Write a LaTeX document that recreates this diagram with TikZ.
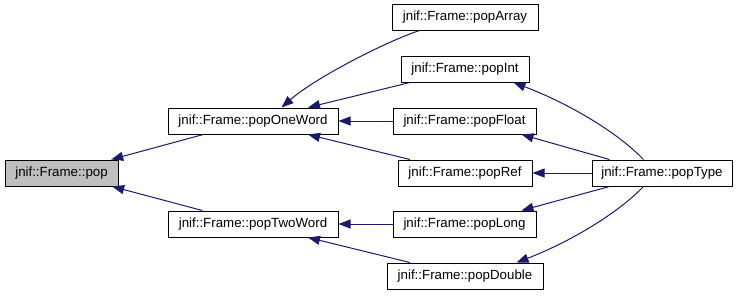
\documentclass[tikz,border=0pt]{standalone}
\usepackage{fontspec}
\setmainfont{Liberation Sans}
\usetikzlibrary{arrows.meta}
\definecolor{edgeblue}{HTML}{191970}
\definecolor{curfill}{HTML}{BFBFBF}
\tikzset{
  fn/.style={draw=black, line width=1pt, fill=white, inner sep=0pt,
    minimum height=26pt, text height=9.6pt, text depth=2.8pt,
    font=\fontsize{13.3}{16}\selectfont},
  cur/.style={fn, fill=curfill},
  call/.style={draw=edgeblue, line width=1pt,
    -{Triangle[length=12pt,width=9pt]}, edgeblue}
}
\begin{document}
\begin{tikzpicture}[x=1pt,y=-1pt]
\useasboundingbox (0,0) rectangle (741,297);

% functions
\node[cur, minimum width=113pt] (pop) at (61.5,173) {jnif::Frame::pop};
\node[fn, minimum width=170pt] (oneword) at (253,121) {jnif::Frame::popOneWord};
\node[fn, minimum width=170pt] (twoword) at (253,224) {jnif::Frame::popTwoWord};
\node[fn, minimum width=146pt] (array) at (465,17) {jnif::Frame::popArray};
\node[fn, minimum width=128pt] (int) at (465,69) {jnif::Frame::popInt};
\node[fn, minimum width=143pt] (float) at (464.5,121) {jnif::Frame::popFloat};
\node[fn, minimum width=134pt] (ref) at (465,173) {jnif::Frame::popRef};
\node[fn, minimum width=143pt] (long) at (464.5,224) {jnif::Frame::popLong};
\node[fn, minimum width=156pt] (double) at (465,276) {jnif::Frame::popDouble};
\node[fn, minimum width=140pt] (type) at (662,173) {jnif::Frame::popType};

% calls into pop
\draw[call] (oneword) -- (pop);
\draw[call] (twoword) -- (pop);

% calls into popOneWord
\draw[call] ([xshift=28pt]array.south west) .. controls (385,42) and (315,78) .. ([xshift=114pt]oneword.north west);
\draw[call] (int) -- (oneword);
\draw[call] (float) -- (oneword);
\draw[call] (ref) -- (oneword);

% calls into popTwoWord
\draw[call] (long) -- (twoword);
\draw[call] (double) -- (twoword);

% calls from popType
\draw[call] ([xshift=52pt]type.north west) .. controls (615,130) and (565,102) .. ([xshift=113pt]int.south west);
\draw[call] ([xshift=18pt]type.north west) -- ([xshift=129pt]float.south west);
\draw[call] (type) -- (ref);
\draw[call] ([xshift=18pt]type.south west) -- ([xshift=129pt]long.north west);
\draw[call] ([xshift=52pt]type.south west) .. controls (615,216) and (565,244) .. ([xshift=130pt]double.north west);
\end{tikzpicture}
\end{document}
